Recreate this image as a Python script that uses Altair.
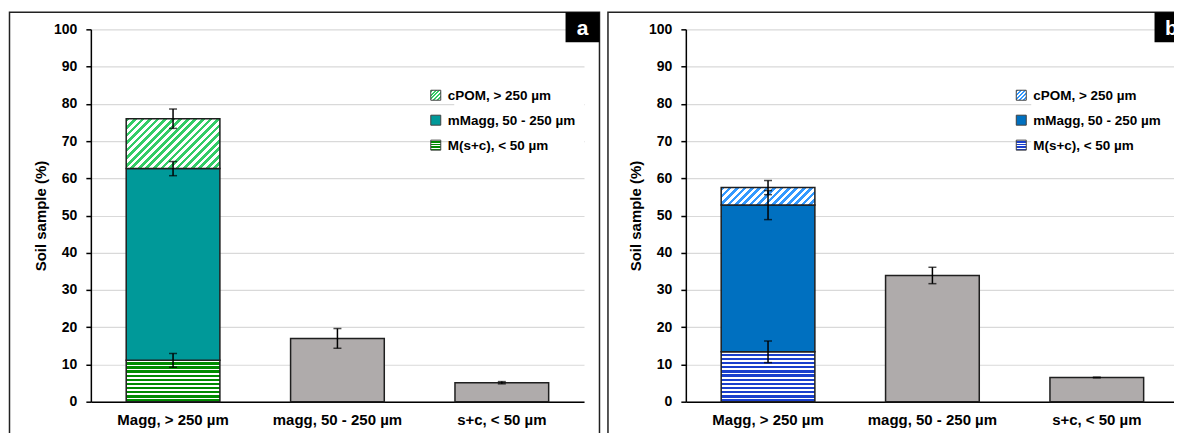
import math
import numpy as np
import pandas as pd
import altair as alt

# ---------------- data ----------------
CATEGORIES = ["Magg, > 250 µm", "magg, 50 - 250 µm", "s+c, < 50 µm"]
# stacked components of the first bar, bottom -> top
COMPONENTS = ["M(s+c), < 50 µm", "mMagg, 50 - 250 µm", "cPOM, > 250 µm"]
LEGEND_ORDER = ["cPOM, > 250 µm", "mMagg, 50 - 250 µm", "M(s+c), < 50 µm"]
Y_TICKS = [0, 10, 20, 30, 40, 50, 60, 70, 80, 90, 100]

A_SEGMENTS = [11.1, 51.5, 13.4]
A_SEGMENT_ERR = [1.85, 1.9, 2.6]
A_OTHERS = [17.0, 5.1]
A_OTHERS_ERR = [2.65, 0.3]

B_SEGMENTS = [13.4, 39.4, 4.7]
B_SEGMENT_ERR = [2.9, 3.9, 1.9]
B_OTHERS = [33.9, 6.5]
B_OTHERS_ERR = [2.2, 0.1]

# ---------------- style ----------------
W, H = 494, 373
FONT = "Liberation Sans"
EDGE = "#1f1f1f"
GREY = "#afabab"
PAD_INNER, PAD_OUTER = 0.43, 0.215
BANDW = W / 3 * (1 - PAD_INNER)
PX = H / 100.0

A_COLORS = {"msc": "#008a00", "mmagg": "#009999", "cpom": "#33cc66"}
B_COLORS = {"msc": "#1a3fcc", "mmagg": "#0070c0", "cpom": "#3399ff"}


def hstripes(color, n, frac=0.55):
    stops = []
    for i in range(n):
        a, c = i / n, (i + 1) / n
        b = (i + 1 - frac) / n
        stops += [alt.GradientStop(offset=a, color="white"),
                  alt.GradientStop(offset=b, color="white"),
                  alt.GradientStop(offset=b, color=color),
                  alt.GradientStop(offset=c, color=color)]
    return alt.LinearGradient(gradient="linear", stops=stops, x1=0, y1=0, x2=0, y2=1)


def dstripes(color, n, w, h, frac=0.5):
    s = (w + h) / (w * w + h * h)
    stops = []
    for i in range(n):
        a, c = i / n, (i + 1) / n
        b = (i + frac) / n
        stops += [alt.GradientStop(offset=a, color=color),
                  alt.GradientStop(offset=b, color=color),
                  alt.GradientStop(offset=b, color="white"),
                  alt.GradientStop(offset=c, color="white")]
    return alt.LinearGradient(gradient="linear", stops=stops, x1=0, y1=0,
                              x2=w * s, y2=h * s)


xscale = alt.Scale(domain=CATEGORIES, paddingInner=PAD_INNER, paddingOuter=PAD_OUTER)
yscale = alt.Scale(domain=[0, 100], nice=False)
xaxis = alt.Axis(title=None, labelAngle=0, ticks=False, tickSize=0, labelPadding=11,
                 labelFont=FONT, labelFontSize=15, labelFontWeight="bold",
                 labelColor="black", domainColor="black", domainWidth=1.5, grid=False)
yaxis = alt.Axis(title="Soil sample (%)", values=Y_TICKS, grid=True, gridColor="#d9d9d9",
                 gridWidth=1.2, domainColor="black", domainWidth=1.5, tickColor="black",
                 tickSize=5, tickWidth=1.5, labelPadding=9, labelFont=FONT,
                 labelFontSize=14, labelFontWeight="bold", labelColor="black",
                 titleFont=FONT, titleFontSize=15, titleFontWeight="bold",
                 titleColor="black", titlePadding=5)


def X():
    return alt.X("cat:N", scale=xscale, axis=xaxis)


def Y(f):
    return alt.Y(f"{f}:Q", scale=yscale, axis=yaxis)


def panel(tag, segs, seg_err, others, others_err, colors, leg_x, leg_bg_x,
          border_left, tag_shift=0.0):
    segs = np.array(segs, dtype=float)
    tops = np.cumsum(segs)
    bottoms = tops - segs
    seg_df = pd.DataFrame({"cat": CATEGORIES[0], "comp": COMPONENTS,
                           "y0": bottoms, "y1": tops})
    grey_df = pd.DataFrame({"cat": CATEGORIES[1:], "y0": 0.0, "y1": others})
    centers = list(tops) + list(others)
    errs = list(seg_err) + list(others_err)
    err_df = pd.DataFrame({"cat": [CATEGORIES[0]] * 3 + CATEGORIES[1:],
                           "lo": [c - e for c, e in zip(centers, errs)],
                           "hi": [c + e for c, e in zip(centers, errs)]})
    one = pd.DataFrame({"k": [0]})

    h_msc = segs[0] * PX
    h_cpom = segs[2] * PX
    fills = {
        COMPONENTS[0]: hstripes(colors["msc"], max(2, round(h_msc / 4.1))),
        COMPONENTS[1]: colors["mmagg"],
        COMPONENTS[2]: dstripes(colors["cpom"], max(2, round((BANDW + h_cpom) / math.sqrt(2) / 5.3)),
                                BANDW, h_cpom),
    }
    leg_fills = {
        COMPONENTS[0]: hstripes(colors["msc"], 4, 0.5),
        COMPONENTS[1]: colors["mmagg"],
        COMPONENTS[2]: dstripes(colors["cpom"], 5, 10, 10),
    }

    layers = []
    # white legend background (interrupts gridlines)
    layers.append(alt.Chart(one).mark_rect(fill="white").encode(
        x=alt.value(leg_bg_x), x2=alt.value(W), y=alt.value(50), y2=alt.value(130)))
    # stacked segments
    for comp in COMPONENTS:
        layers.append(alt.Chart(seg_df).transform_filter(alt.datum.comp == comp)
                      .mark_bar(fill=fills[comp], stroke=EDGE, strokeWidth=1.5)
                      .encode(x=X(), y=Y("y0"), y2="y1"))
    # grey fraction bars
    layers.append(alt.Chart(grey_df).mark_bar(fill=GREY, stroke=EDGE, strokeWidth=1.5)
                  .encode(x=X(), y=Y("y0"), y2="y1"))
    # error bars
    layers.append(alt.Chart(err_df).mark_rule(color="black", strokeWidth=1.5)
                  .encode(x=X(), y=Y("lo"), y2="hi"))
    for f in ["lo", "hi"]:
        layers.append(alt.Chart(err_df).mark_tick(color="black", thickness=1.5, size=8)
                      .encode(x=X(), y=Y(f)))
    # legend
    row_y = [66, 91, 116]
    for comp, ry in zip(LEGEND_ORDER, row_y):
        layers.append(alt.Chart(one).mark_rect(fill=leg_fills[comp], stroke="#404040",
                                               strokeWidth=1).encode(
            x=alt.value(leg_x), x2=alt.value(leg_x + 10),
            y=alt.value(ry - 5), y2=alt.value(ry + 5)))
        layers.append(alt.Chart(one).mark_text(text=comp, font=FONT, fontSize=13.5,
                                               fontWeight="bold", color="black",
                                               align="left", baseline="middle").encode(
            x=alt.value(leg_x + 17), y=alt.value(ry + 1)))
    # panel frame
    layers.append(alt.Chart(one).mark_rect(fillOpacity=0, stroke="#222222", strokeWidth=1.5)
                  .encode(x=alt.value(border_left), x2=alt.value(W + 15.5),
                          y=alt.value(-17), y2=alt.value(H + 45)))
    # tag box
    layers.append(alt.Chart(one).mark_rect(fill="black").encode(
        x=alt.value(W - 18.5 - tag_shift), x2=alt.value(W + 15.5),
        y=alt.value(-17), y2=alt.value(13)))
    layers.append(alt.Chart(one).mark_text(text=tag, font=FONT, fontSize=21,
                                           fontWeight="bold", color="white",
                                           align="center", baseline="alphabetic").encode(
        x=alt.value(W - 1.5 - tag_shift), y=alt.value(6)))
    return alt.layer(*layers).properties(width=W, height=H)


pa = panel("a", A_SEGMENTS, A_SEGMENT_ERR, A_OTHERS, A_OTHERS_ERR, A_COLORS,
           leg_x=340.5, leg_bg_x=364, border_left=-81.5)
pb = panel("b", B_SEGMENTS, B_SEGMENT_ERR, B_OTHERS, B_OTHERS_ERR, B_COLORS,
           leg_x=331, leg_bg_x=346, border_left=-78, tag_shift=6)

chart = (alt.hconcat(pa, pb, spacing=6)
         .properties(padding={"left": 0, "top": 3, "right": -22, "bottom": 0})
         .configure_view(strokeOpacity=0))

chart.save("out.html", embed_options={"renderer": "svg", "actions": False})
